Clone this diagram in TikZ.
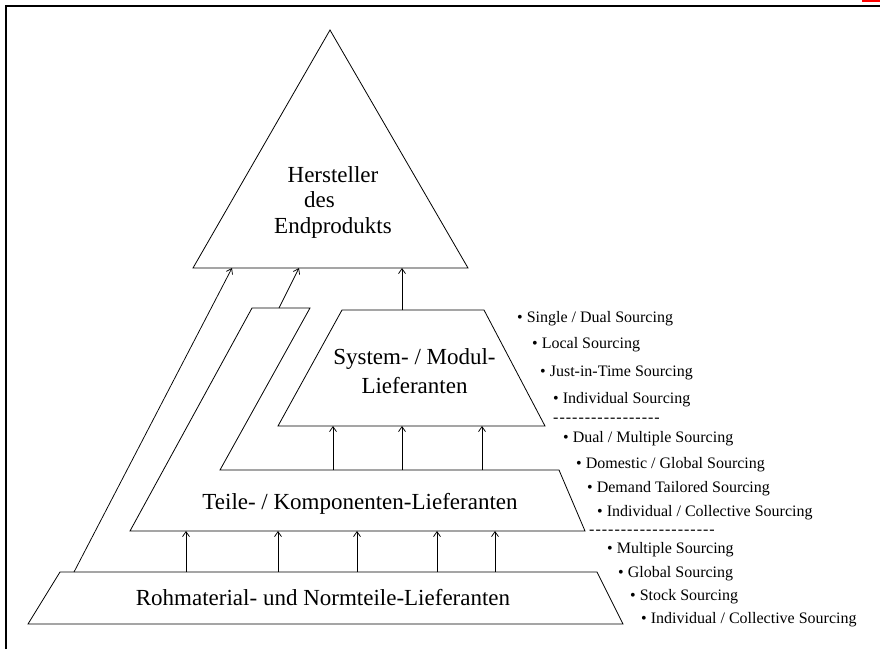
\documentclass[tikz,border=0pt]{standalone}
\usepackage{fontspec}
\setmainfont{Liberation Serif}
\usetikzlibrary{arrows.meta}
\newcommand\hyrow[1]{\foreach \k in {1,...,#1}{-\kern1pt}}
\begin{document}
\begin{tikzpicture}[x=1pt,y=-1pt,
  outline/.style={draw=black,line width=0.8pt,line join=miter},
  flow/.style={draw=black,line width=0.75pt,-{Straight Barb[length=5pt,width=7pt]}},
  bigtxt/.style={font=\fontsize{23}{25.5}\selectfont,inner sep=0pt,align=center},
  smalltxt/.style={font=\fontsize{16}{19}\selectfont,inner sep=0pt,anchor=base west}]
\useasboundingbox (0,0) rectangle (880,649);
% frame
\coordinate (fr1) at (6,649);
\coordinate (fr2) at (6,6);
\coordinate (fr3) at (880,6);
\draw[line width=2pt] (fr1) -- (fr2) -- (fr3);
\fill[red] (862,0) rectangle (880,2);
% triangle
\coordinate (tA) at (330,30);
\coordinate (tL) at (193,268);
\coordinate (tR) at (468,268);
\draw[outline] (tL) -- (tA) -- (tR) -- cycle;
\node[bigtxt,anchor=north] (hersteller) at (333,166) {Hersteller\\des\kern27pt\\Endprodukts};
% system trapezoid
\coordinate (s1) at (278,426);
\coordinate (s2) at (342,310);
\coordinate (s3) at (484,310);
\coordinate (s4) at (545,426);
\draw[outline] (s1) -- (s2) -- (s3) -- (s4) -- cycle;
\node[bigtxt,font=\fontsize{23}{29}\selectfont,anchor=north] (system) at (414.5,348) {System- / Modul-\\Lieferanten};
% teile shape with arm
\coordinate (k1) at (130,531);
\coordinate (k2) at (252,308);
\coordinate (k3) at (310,308);
\coordinate (k4) at (220,470);
\coordinate (k5) at (559,470);
\coordinate (k6) at (585,531);
\draw[outline] (k1) -- (k2) -- (k3) -- (k4) -- (k5) -- (k6) -- cycle;
\node[bigtxt,anchor=base] (teile) at (360,509) {Teile- / Komponenten-Lieferanten};
% rohmaterial trapezoid
\coordinate (r1) at (28,624);
\coordinate (r2) at (60,572);
\coordinate (r3) at (597,572);
\coordinate (r4) at (623,624);
\draw[outline] (r1) -- (r2) -- (r3) -- (r4) -- cycle;
\node[bigtxt,anchor=base] (roh) at (323,605) {Rohmaterial- und Normteile-Lieferanten};
% arrows to triangle
\coordinate (sTop) at (402,310);
\coordinate (tIn1) at (402,268);
\draw[flow] (sTop) -- (tIn1);
\coordinate (armTop) at (279,308);
\coordinate (tIn2) at (299,268);
\draw[flow] (armTop) -- (tIn2);
\coordinate (rTop) at (74,572);
\coordinate (tIn3) at (232,268);
\draw[flow] (rTop) -- (tIn3);
% teile to system
\foreach \x [count=\i] in {333,402,482}{
  \coordinate (ks\i) at (\x,470);
  \coordinate (sk\i) at (\x,426);
  \draw[flow] (ks\i) -- (sk\i);
}
% roh to teile
\foreach \x [count=\i] in {186,278,357,437,495}{
  \coordinate (rk\i) at (\x,572);
  \coordinate (kr\i) at (\x,531);
  \draw[flow] (rk\i) -- (kr\i);
}
% lists
\node[smalltxt] (l1) at (517,322) {• Single / Dual Sourcing};
\node[smalltxt] (l2) at (532,348) {• Local Sourcing};
\node[smalltxt] (l3) at (540,376) {• Just-in-Time Sourcing};
\node[smalltxt] (l4) at (553,403) {• Individual Sourcing};
\node[smalltxt] (d1) at (553,422) {\hyrow{17}};
\node[smalltxt] (m1) at (563,442) {• Dual / Multiple Sourcing};
\node[smalltxt] (m2) at (576,468) {• Domestic / Global Sourcing};
\node[smalltxt] (m3) at (587,492) {• Demand Tailored Sourcing};
\node[smalltxt] (m4) at (597,516) {• Individual / Collective Sourcing};
\node[smalltxt] (d2) at (589,534) {\hyrow{20}};
\node[smalltxt] (n1) at (607,553) {• Multiple Sourcing};
\node[smalltxt] (n2) at (618,577) {• Global Sourcing};
\node[smalltxt] (n3) at (630,600) {• Stock Sourcing};
\node[smalltxt] (n4) at (641,623) {• Individual / Collective Sourcing};
\end{tikzpicture}
\end{document}
